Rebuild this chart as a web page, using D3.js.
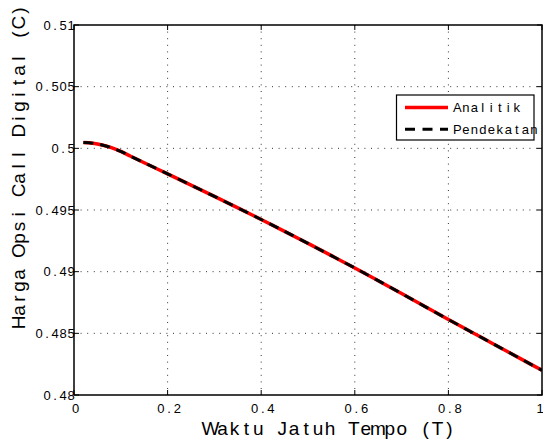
<!DOCTYPE html>
<html>
<head>
<meta charset="utf-8">
<script src="https://cdn.jsdelivr.net/npm/d3@7"></script>
<style>
  body { margin: 0; background: #fff; }
  text { font-family: "Liberation Sans", Arial, Helvetica, sans-serif; fill: #000; }
</style>
</head>
<body>
<div id="chart"></div>
<script>
// maturity (T) and digital call prices
const maturity = [0.02, 0.04, 0.06, 0.08, 0.10, 0.12, 0.15, 0.20, 0.25, 0.30, 0.35, 0.40,
                  0.45, 0.50, 0.55, 0.60, 0.65, 0.70, 0.75, 0.80, 0.85, 0.90, 0.95, 1.00];
const analitik = [0.50047, 0.50041, 0.50027, 0.50005, 0.49975, 0.49938, 0.49883, 0.49793,
                  0.49702, 0.49610, 0.49517, 0.49423, 0.49327, 0.49229, 0.49130, 0.49030,
                  0.48927, 0.48823, 0.48717, 0.48612, 0.48509, 0.48406, 0.48303, 0.48200];
const pendekatan = [0.50047, 0.50041, 0.50027, 0.50005, 0.49975, 0.49938, 0.49883, 0.49793,
                  0.49702, 0.49610, 0.49517, 0.49423, 0.49327, 0.49229, 0.49130, 0.49030,
                  0.48927, 0.48823, 0.48717, 0.48612, 0.48509, 0.48406, 0.48303, 0.48200];
const xTicks = [0, 0.2, 0.4, 0.6, 0.8, 1];
const xTickLabels = ["0", "0.2", "0.4", "0.6", "0.8", "1"];
const yTicks = [0.48, 0.485, 0.49, 0.495, 0.5, 0.505, 0.51];
const yTickLabels = ["0.48", "0.485", "0.49", "0.495", "0.5", "0.505", "0.51"];
const seriesNames = ["Analitik", "Pendekatan"];

const W = 543, H = 443;
const pLeft = 74, pRight = 542, pTop = 25, pBottom = 395;

const svg = d3.select("#chart").append("svg")
    .attr("width", W).attr("height", H);

const x = d3.scaleLinear().domain([0, 1]).range([pLeft, pRight]);
const y = d3.scaleLinear().domain([0.48, 0.51]).range([pBottom, pTop]);

// matlab-ish text: every glyph gets the same advance
function monoText(sel, str, x0, pitch, anchor) {
    const n = str.length;
    let start;
    if (anchor === "middle") start = x0 - pitch * n / 2;
    else if (anchor === "end") start = x0 - pitch * n;
    else start = x0;
    const xs = d3.range(n).map(i => (start + pitch * (i + 0.5)).toFixed(2));
    return sel.attr("x", xs.join(" ")).attr("text-anchor", "middle").text(str);
}

// dotted grid
const grid = svg.append("g")
    .attr("stroke", "#333").attr("stroke-width", 1)
    .attr("stroke-dasharray", "1,5.6");
grid.selectAll(".gx").data(xTicks.slice(1, -1)).enter().append("line")
    .attr("x1", d => x(d)).attr("x2", d => x(d))
    .attr("y1", pTop).attr("y2", pBottom);
grid.selectAll(".gy").data(yTicks.slice(1, -1)).enter().append("line")
    .attr("x1", pLeft).attr("x2", pRight)
    .attr("y1", d => y(d)).attr("y2", d => y(d));

// lines
svg.append("clipPath").attr("id", "clip")
    .append("rect").attr("x", pLeft).attr("y", pTop)
    .attr("width", pRight - pLeft).attr("height", pBottom - pTop);

const line = d3.line()
    .x((d, i) => x(maturity[i]))
    .y(d => y(d))
    .curve(d3.curveMonotoneX);

svg.append("path").datum(analitik)
    .attr("clip-path", "url(#clip)")
    .attr("d", line)
    .attr("fill", "none").attr("stroke", "#ff0000").attr("stroke-width", 3.5);

svg.append("path").datum(pendekatan)
    .attr("clip-path", "url(#clip)")
    .attr("d", line)
    .attr("fill", "none").attr("stroke", "#000").attr("stroke-width", 3)
    .attr("stroke-dasharray", "10,7");

// axes box + inward ticks
svg.append("rect")
    .attr("x", pLeft).attr("y", pTop)
    .attr("width", pRight - pLeft).attr("height", pBottom - pTop)
    .attr("fill", "none").attr("stroke", "#000").attr("stroke-width", 1.5);

const tl = 5;
const ticks = svg.append("g").attr("stroke", "#000").attr("stroke-width", 1);
xTicks.forEach(t => {
    ticks.append("line").attr("x1", x(t)).attr("x2", x(t)).attr("y1", pBottom).attr("y2", pBottom - tl);
    ticks.append("line").attr("x1", x(t)).attr("x2", x(t)).attr("y1", pTop).attr("y2", pTop + tl);
});
yTicks.forEach(t => {
    ticks.append("line").attr("x1", pLeft).attr("x2", pLeft + tl).attr("y1", y(t)).attr("y2", y(t));
    ticks.append("line").attr("x1", pRight).attr("x2", pRight - tl).attr("y1", y(t)).attr("y2", y(t));
});

// tick labels
xTicks.forEach((t, i) => {
    monoText(svg.append("text").attr("y", 413).attr("font-size", "13px"),
        xTickLabels[i], Math.min(x(t) + 1.5, 540), 8.2, "middle");
});
yTicks.forEach((t, i) => {
    monoText(svg.append("text").attr("y", y(t)).attr("dy", "0.36em").attr("font-size", "13px"),
        yTickLabels[i], pLeft + 1, 8, "end");
});

// axis titles
monoText(svg.append("text").attr("y", 435).attr("font-size", "19px"),
    "Waktu Jatuh Tempo (T)", 330, 11.95, "middle");

monoText(svg.append("g").attr("transform", "translate(25,166.5) rotate(-90)")
    .append("text").attr("y", 0).attr("font-size", "19px"),
    "Harga Opsi Call Digital (C)", 0, 12, "middle");

// legend
const lg = svg.append("g");
lg.append("rect")
    .attr("x", 396.5).attr("y", 95)
    .attr("width", 137.5).attr("height", 45)
    .attr("fill", "#fff").attr("stroke", "#000").attr("stroke-width", 1.2);

const legY = [107.5, 129.3];
lg.append("line").attr("x1", 405).attr("x2", 448).attr("y1", legY[0]).attr("y2", legY[0])
    .attr("stroke", "#ff0000").attr("stroke-width", 3.5);
lg.append("line").attr("x1", 405).attr("x2", 448).attr("y1", legY[1]).attr("y2", legY[1])
    .attr("stroke", "#000").attr("stroke-width", 3).attr("stroke-dasharray", "10,7.5");

seriesNames.forEach((name, i) => {
    monoText(lg.append("text").attr("y", legY[i] + 4.8).attr("font-size", "13px"),
        name, 453, 8.5, "start");
});
</script>
</body>
</html>
